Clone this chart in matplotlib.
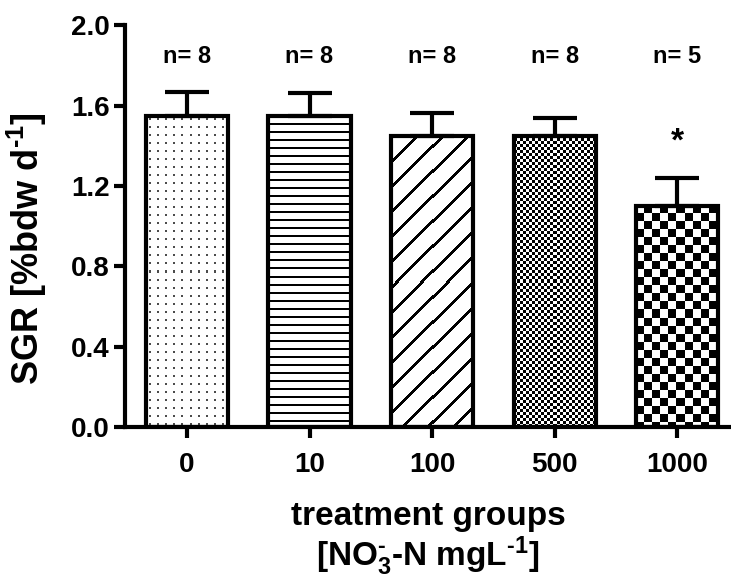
import numpy as np
import matplotlib
matplotlib.use("Agg")
import matplotlib.pyplot as plt

plt.rcParams['font.family'] = ['Liberation Sans', 'DejaVu Sans']
plt.rcParams['font.weight'] = 'bold'
plt.rcParams['mathtext.fontset'] = 'custom'
plt.rcParams['mathtext.rm'] = 'Liberation Sans:bold'
plt.rcParams['mathtext.bf'] = 'Liberation Sans:bold'
plt.rcParams['mathtext.default'] = 'bf'

# data
groups = ['0', '10', '100', '500', '1000']
sgr = [1.55, 1.55, 1.45, 1.45, 1.10]
sgr_err = [0.115, 0.11, 0.115, 0.09, 0.14]
n_labels = ['n= 8', 'n= 8', 'n= 8', 'n= 8', 'n= 5']
signif = ['', '', '', '', '*']
yticks = [0.0, 0.4, 0.8, 1.2, 1.6, 2.0]

fig = plt.figure(figsize=(7.31, 5.85), dpi=100)
ax = fig.add_axes([0.171, 0.270, 0.829, 0.687])
x = np.arange(len(groups))
ax.set_xlim(-0.506, 4.44)
ax.set_ylim(0, 2.0)


# fill patterns, built in pixel units then stretched over the bar
def pat_dots(c, r):
    return ((c % 8 >= 3) & (c % 8 <= 4) & (r % 8 >= 3) & (r % 8 <= 4)) * 0.7

def pat_hlines(c, r):
    return ((r % 8) < 2) * 1.0

def pat_diag(c, r):
    return (((c + r) % 25) < 4) * 1.0

def pat_fine(c, r):
    return ((c // 3 + r // 3) % 2) * 1.0

def pat_coarse(c, r):
    return ((c // 8 + r // 8) % 2) * 1.0

patterns = [pat_dots, pat_hlines, pat_diag, pat_fine, pat_coarse]

bars = ax.bar(x, sgr, width=0.67, facecolor='none', edgecolor='black',
              linewidth=3, zorder=3)

fig.canvas.draw()
for b, pat in zip(bars, patterns):
    x0, y0 = b.get_x(), b.get_y()
    x1, y1 = x0 + b.get_width(), y0 + b.get_height()
    p0 = ax.transData.transform((x0, y0))
    p1 = ax.transData.transform((x1, y1))
    w = int(round(p1[0] - p0[0]))
    h = int(round(p1[1] - p0[1]))
    cc, rr = np.meshgrid(np.arange(w), np.arange(h))
    img = pat(cc, rr)
    ax.imshow(img, cmap='gray_r', vmin=0, vmax=1, extent=[x0, x1, y0, y1],
              origin='upper', interpolation='nearest', aspect='auto',
              zorder=2, clip_path=b, clip_on=True)

ax.set_xlim(-0.506, 4.44)
ax.set_ylim(0, 2.0)

ax.errorbar(x, sgr, yerr=[np.zeros(len(sgr)), sgr_err], fmt='none',
            ecolor='black', elinewidth=3, capsize=16, capthick=3, zorder=4)

for xi, lab in zip(x, n_labels):
    ax.text(xi, 1.81, lab, ha='center', va='baseline', fontsize=17,
            fontweight='bold', clip_on=False)
for xi, s in zip(x, signif):
    if s:
        ax.text(xi, 1.42, s, ha='center', va='center', fontsize=24,
                fontweight='bold')

for sp in ['top', 'right']:
    ax.spines[sp].set_visible(False)
for sp in ['left', 'bottom']:
    ax.spines[sp].set_linewidth(3)

ax.set_xticks(x)
ax.set_xticklabels(groups)
ax.set_yticks(yticks)
ax.set_yticklabels(['%.1f' % t for t in yticks])
ax.tick_params(axis='both', width=3, length=8, labelsize=20)
ax.tick_params(axis='x', pad=10)
ax.tick_params(axis='y', pad=3)

ax.set_ylabel(r'SGR [%bdw d$^{\text{-}1}$]', fontsize=26, fontweight='bold')
ax.yaxis.set_label_coords(-0.125, 0.445)

ax.text(0.5, -0.244, 'treatment groups', transform=ax.transAxes,
        ha='center', va='baseline', fontsize=24, fontweight='bold')
ax.text(0.5, -0.346, r'[NO$_3^{\text{-}}$-N mgL$^{\text{-}1}$]',
        transform=ax.transAxes, ha='center', va='baseline', fontsize=24,
        fontweight='bold')

fig.savefig('out.png', dpi=100)
